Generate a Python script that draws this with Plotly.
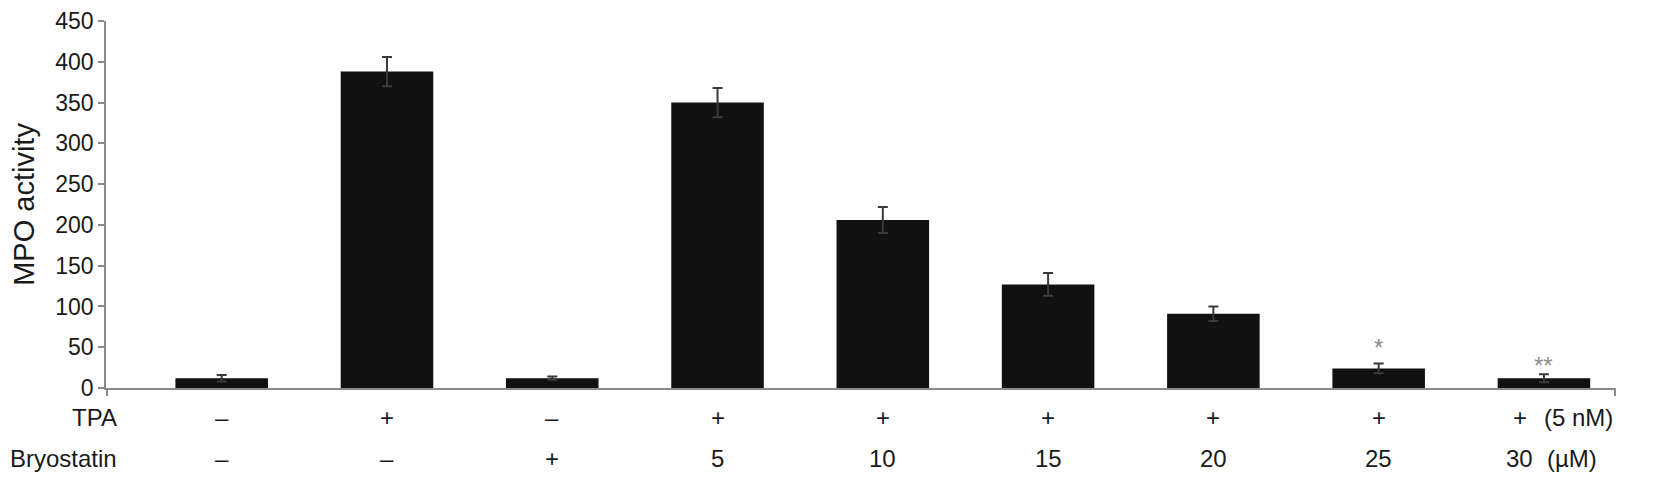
import plotly.graph_objects as go

# ── Data ───────────────────────────────────────────────────────────────────────
groups = list(range(9))
mpo_activity = [12, 388, 12, 350, 206, 127, 91, 24, 12]
mpo_error = [4, 18, 2, 18, 16, 14, 9, 6, 5]
tpa_row = ["–", "+", "–", "+", "+", "+", "+", "+", "+"]
bryostatin_row = ["–", "–", "+", "5", "10", "15", "20", "25", "30"]
signif_groups = [7, 8]
signif_labels = ["*", "**"]
signif_y = [50, 28]

FONT = "Liberation Sans, Arial, Helvetica, sans-serif"
TXT = "#1a1a1a"
AXIS = "#8a8a8a"
X_RANGE = [-0.70, 8.436]

# the page body adds an 8 px offset, so the figure is 8 px smaller
# and the margins are trimmed to keep the plot area where it belongs
fig = go.Figure()
fig.add_trace(go.Bar(
    x=groups, y=mpo_activity, width=0.56,
    marker=dict(color="#111111", line=dict(width=0)),
    error_y=dict(type="data", array=mpo_error, visible=True,
                 color="#3a3a3a", thickness=2, width=5),
    showlegend=False,
))

# significance marks
for g, lab, yv in zip(signif_groups, signif_labels, signif_y):
    fig.add_annotation(x=g, y=yv, xref="x", yref="y", text=lab, showarrow=False,
                       font=dict(size=24, color="#8c8c8c", family=FONT),
                       yanchor="middle")

# treatment rows under the axis
rows = [("TPA", tpa_row, -0.122, "(5 nM)", -2),
        ("Bryostatin", bryostatin_row, -0.235, "(µM)", 1)]
for name, vals, yp, unit, ushift in rows:
    fig.add_annotation(x=0, xref="paper", y=yp, yref="paper", text=name,
                       showarrow=False, xanchor="right", xshift=13,
                       font=dict(size=24, color=TXT, family=FONT))
    for g, v in zip(groups, vals):
        last = g == groups[-1]
        fig.add_annotation(x=g, xref="x", y=yp, yref="paper", text=v,
                           showarrow=False, xshift=-24 if last else 0,
                           font=dict(size=24, color=TXT, family=FONT))
    fig.add_annotation(x=groups[-1], xref="x", y=yp, yref="paper", text=unit,
                       showarrow=False, xanchor="left", xshift=ushift,
                       font=dict(size=24, color=TXT, family=FONT))

fig.update_xaxes(range=X_RANGE, showline=True, linecolor=AXIS, linewidth=1.5,
                 showgrid=False, zeroline=False,
                 tickmode="array", tickvals=[X_RANGE[0] + 0.004, X_RANGE[1] - 0.004],
                 ticktext=["", ""], ticks="outside", ticklen=6, tickcolor=AXIS,
                 tickwidth=1.5)
fig.update_yaxes(range=[0, 450], dtick=50, showline=True, linecolor=AXIS,
                 linewidth=1.5, showgrid=False, zeroline=False,
                 ticks="outside", ticklen=6, tickcolor=AXIS, tickwidth=1.5,
                 ticklabeloverflow="allow",
                 tickfont=dict(size=23, color=TXT, family=FONT),
                 title=dict(text="MPO activity", standoff=16,
                            font=dict(size=29, color=TXT, family=FONT)))

fig.update_layout(
    width=1646, height=474,
    template="plotly_white", plot_bgcolor="white", paper_bgcolor="white",
    margin=dict(l=98, r=38, t=13, b=94, autoexpand=False),
    font=dict(family=FONT, color=TXT),
)

fig.write_html("out.html")
